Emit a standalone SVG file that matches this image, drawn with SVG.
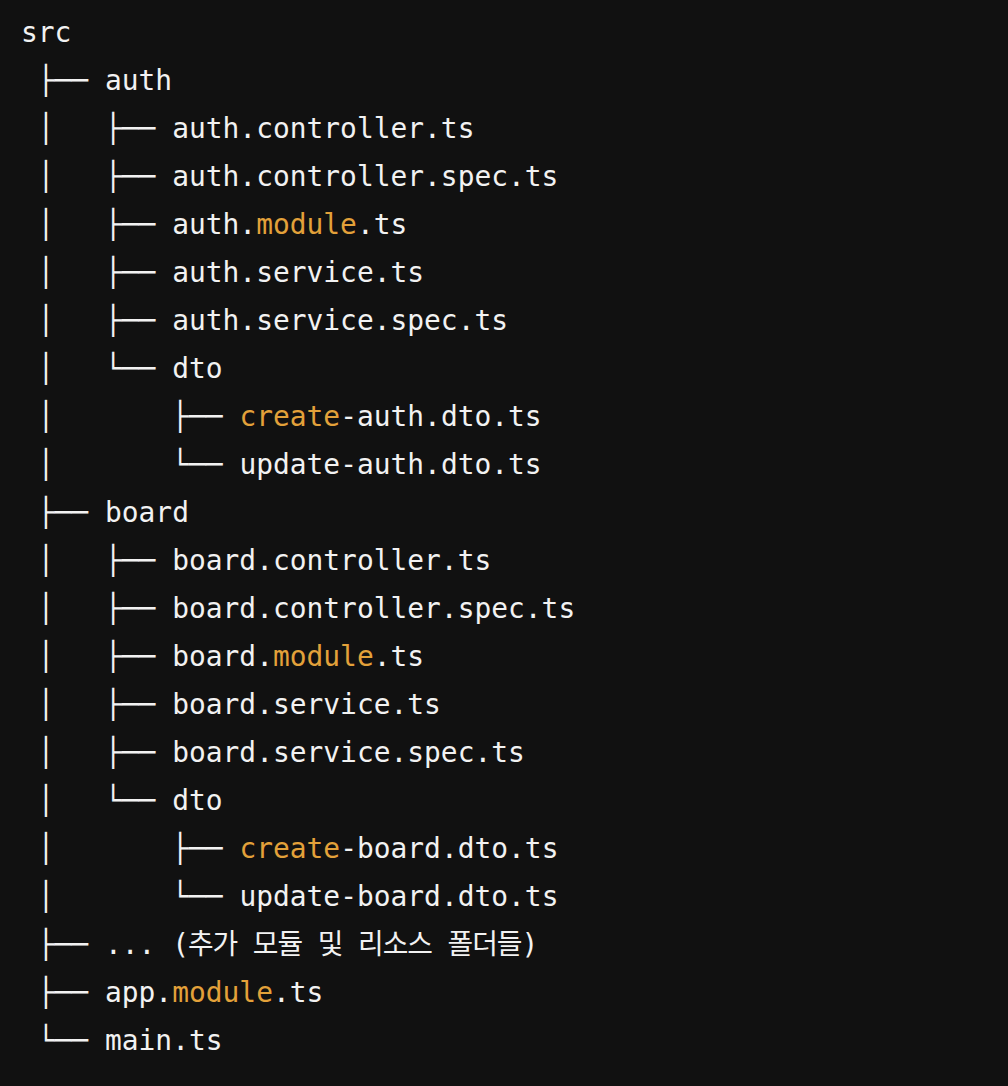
<svg xmlns="http://www.w3.org/2000/svg" width="1008" height="1086" viewBox="0 0 1008 1086">
<style>
text{font-family:"DejaVu Sans Mono","Noto Sans CJK KR",monospace;font-size:27.9px;fill:#f2f2f2;white-space:pre}
.tree{fill:#f2f2f2}
.hl{fill:#e3a13a}
</style>
<rect width="1008" height="1086" fill="#111111"/>
<g id="connectors">
<text class="tree" x="21" y="89.5" xml:space="preserve"> ├──</text>
<text class="tree" x="21" y="137.5" xml:space="preserve"> │   ├──</text>
<text class="tree" x="21" y="185.5" xml:space="preserve"> │   ├──</text>
<text class="tree" x="21" y="233.5" xml:space="preserve"> │   ├──</text>
<text class="tree" x="21" y="281.5" xml:space="preserve"> │   ├──</text>
<text class="tree" x="21" y="329.5" xml:space="preserve"> │   ├──</text>
<text class="tree" x="21" y="377.5" xml:space="preserve"> │   └──</text>
<text class="tree" x="21" y="425.5" xml:space="preserve"> │       ├──</text>
<text class="tree" x="21" y="473.5" xml:space="preserve"> │       └──</text>
<text class="tree" x="21" y="521.5" xml:space="preserve"> ├──</text>
<text class="tree" x="21" y="569.5" xml:space="preserve"> │   ├──</text>
<text class="tree" x="21" y="617.5" xml:space="preserve"> │   ├──</text>
<text class="tree" x="21" y="665.5" xml:space="preserve"> │   ├──</text>
<text class="tree" x="21" y="713.5" xml:space="preserve"> │   ├──</text>
<text class="tree" x="21" y="761.5" xml:space="preserve"> │   ├──</text>
<text class="tree" x="21" y="809.5" xml:space="preserve"> │   └──</text>
<text class="tree" x="21" y="857.5" xml:space="preserve"> │       ├──</text>
<text class="tree" x="21" y="905.5" xml:space="preserve"> │       └──</text>
<text class="tree" x="21" y="953.5" xml:space="preserve"> ├──</text>
<text class="tree" x="21" y="1001.5" xml:space="preserve"> ├──</text>
<text class="tree" x="21" y="1049.5" xml:space="preserve"> └──</text>
</g>
<g id="node-src"><text x="21" y="41.5">src</text></g>
<g id="node-auth"><text x="105" y="89.5">auth</text></g>
<g id="node-auth-controller"><text x="172.2" y="137.5">auth.controller.ts</text></g>
<g id="node-auth-controller-spec"><text x="172.2" y="185.5">auth.controller.spec.ts</text></g>
<g id="node-auth-module"><text x="172.2" y="233.5">auth.<tspan class="hl">module</tspan>.ts</text></g>
<g id="node-auth-service"><text x="172.2" y="281.5">auth.service.ts</text></g>
<g id="node-auth-service-spec"><text x="172.2" y="329.5">auth.service.spec.ts</text></g>
<g id="node-auth-dto"><text x="172.2" y="377.5">dto</text></g>
<g id="node-create-auth-dto"><text x="239.4" y="425.5"><tspan class="hl">create</tspan>-auth.dto.ts</text></g>
<g id="node-update-auth-dto"><text x="239.4" y="473.5">update-auth.dto.ts</text></g>
<g id="node-board"><text x="105" y="521.5">board</text></g>
<g id="node-board-controller"><text x="172.2" y="569.5">board.controller.ts</text></g>
<g id="node-board-controller-spec"><text x="172.2" y="617.5">board.controller.spec.ts</text></g>
<g id="node-board-module"><text x="172.2" y="665.5">board.<tspan class="hl">module</tspan>.ts</text></g>
<g id="node-board-service"><text x="172.2" y="713.5">board.service.ts</text></g>
<g id="node-board-service-spec"><text x="172.2" y="761.5">board.service.spec.ts</text></g>
<g id="node-board-dto"><text x="172.2" y="809.5">dto</text></g>
<g id="node-create-board-dto"><text x="239.4" y="857.5"><tspan class="hl">create</tspan>-board.dto.ts</text></g>
<g id="node-update-board-dto"><text x="239.4" y="905.5">update-board.dto.ts</text></g>
<g id="node-more"><text x="105" y="953.5">...</text><text x="172.2" y="953.5" textLength="366" lengthAdjust="spacing">(추가 모듈 및 리소스 폴더들)</text></g>
<g id="node-app-module"><text x="105" y="1001.5">app.<tspan class="hl">module</tspan>.ts</text></g>
<g id="node-main"><text x="105" y="1049.5">main.ts</text></g>
</svg>
